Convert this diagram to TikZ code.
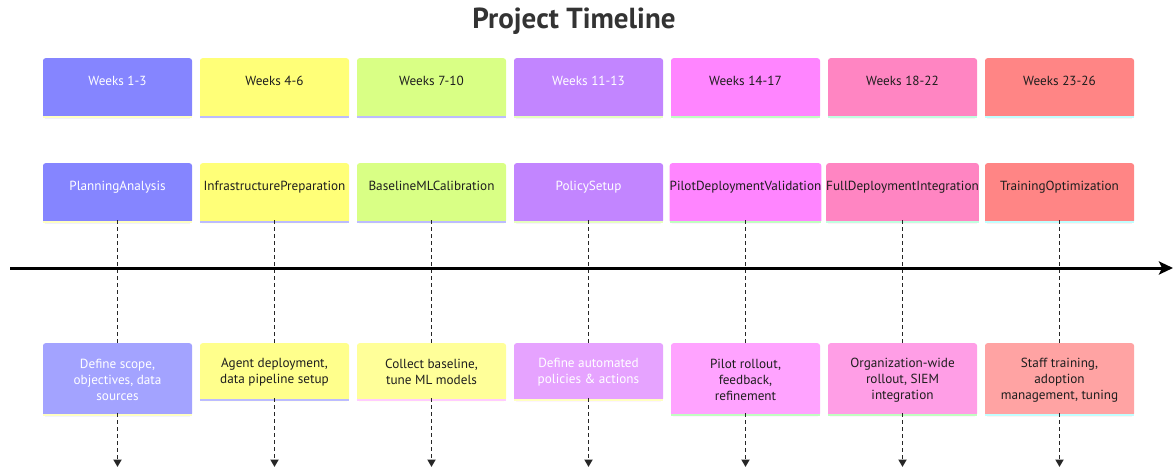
\documentclass[tikz,border=0pt]{standalone}
\usepackage{fontspec}
\setmainfont{PT Sans}
\usetikzlibrary{arrows.meta}

\definecolor{sec1}{HTML}{8585FF}\definecolor{ev1}{HTML}{A3A3FF}
\definecolor{sec2}{HTML}{FFFF78}\definecolor{ev2}{HTML}{FFFF8C}
\definecolor{sec3}{HTML}{D9FF85}\definecolor{ev3}{HTML}{FFFF99}
\definecolor{sec4}{HTML}{C285FF}\definecolor{ev4}{HTML}{E6A3FF}
\definecolor{sec5}{HTML}{FF85FF}\definecolor{ev5}{HTML}{FFA3FF}
\definecolor{sec6}{HTML}{FF85C2}\definecolor{ev6}{HTML}{FF9EE6}
\definecolor{sec7}{HTML}{FF8585}\definecolor{ev7}{HTML}{FFA3A3}
\definecolor{lineyellow}{HTML}{FFFFC0}
\definecolor{linelav}{HTML}{BCBCFF}
\definecolor{linepink}{HTML}{FFCCFF}
\definecolor{linelime}{HTML}{E6FFBE}
\definecolor{linegreen}{HTML}{C0FFC0}
\definecolor{linemint}{HTML}{C0FFE0}
\definecolor{linecyan}{HTML}{C0FFFF}
\definecolor{inkdark}{HTML}{1E1E1E}

\tikzset{
  card/.style={anchor=north, minimum width=149pt, inner xsep=0pt, inner ysep=0pt,
    rounded corners=2.5pt, text=inkdark, font=\fontsize{13.2}{16}\selectfont,
    text height=27.5pt, text depth=32.5pt},
  evcard/.style={anchor=north, minimum width=149pt, inner xsep=0pt, inner ysep=0pt,
    rounded corners=2.5pt, text=inkdark, align=center, font=\fontsize{13.2}{16}\selectfont},
  strip/.style={line width=2.4pt},
  guide/.style={dash pattern=on 3.5pt off 3.5pt, line width=1.9pt, draw=black!85},
  guidetip/.style={guide, -{Triangle[length=7.5pt,width=8pt]}}
}

\begin{document}
\begin{tikzpicture}[x=1pt,y=-1pt]
			%%%%% START %%%%%
			\useasboundingbox (0,0) rectangle (1173,468);
			
			\node[font=\bfseries\fontsize{29}{34}\selectfont, text=black!80] (title) at (574,21) {Project Timeline};
			
			% week boxes
			\node[card, fill=sec1, text=white] (w1) at (117.5,58) {Weeks 1-3};
			\node[card, fill=sec2] (w2) at (274.5,58) {Weeks 4-6};
			\node[card, fill=sec3] (w3) at (431.5,58) {Weeks 7-10};
			\node[card, fill=sec4, text=white] (w4) at (588.5,58) {Weeks 11-13};
			\node[card, fill=sec5] (w5) at (745.5,58) {Weeks 14-17};
			\node[card, fill=sec6] (w6) at (902.5,58) {Weeks 18-22};
			\node[card, fill=sec7] (w7) at (1059.5,58) {Weeks 23-26};
			
			% section boxes
			\node[card, fill=sec1, text=white] (s1) at (117.5,163) {PlanningAnalysis};
			\node[card, fill=sec2] (s2) at (274.5,163) {InfrastructurePreparation};
			\node[card, fill=sec3] (s3) at (431.5,163) {BaselineMLCalibration};
			\node[card, fill=sec4, text=white] (s4) at (588.5,163) {PolicySetup};
			\node[card, fill=sec5] (s5) at (745.5,163) {PilotDeploymentValidation};
			\node[card, fill=sec6] (s6) at (902.5,163) {FullDeploymentIntegration};
			\node[card, fill=sec7] (s7) at (1059.5,163) {TrainingOptimization};
			
			% event boxes
			\node[evcard, fill=ev1, text=white, minimum height=73pt] (e1) at (117.5,343) {Define scope,\\objectives, data\\sources};
			\node[evcard, fill=ev2, minimum height=58pt] (e2) at (274.5,343) {Agent deployment,\\data pipeline setup};
			\node[evcard, fill=ev3, minimum height=58pt] (e3) at (431.5,343) {Collect baseline,\\tune ML models};
			\node[evcard, fill=ev4, text=white, minimum height=58pt] (e4) at (588.5,343) {Define automated\\policies \& actions};
			\node[evcard, fill=ev5, minimum height=73pt] (e5) at (745.5,343) {Pilot rollout,\\feedback,\\refinement};
			\node[evcard, fill=ev6, minimum height=73pt] (e6) at (902.5,343) {Organization-wide\\rollout, SIEM\\integration};
			\node[evcard, fill=ev7, minimum height=73pt] (e7) at (1059.5,343) {Staff training,\\adoption\\management, tuning};
			
			% strips under the boxes
			\foreach \n/\c in {w1/lineyellow, w2/linelav, w3/linelav, w4/linelime, w5/linegreen, w6/linemint, w7/linecyan,
			                   s1/lineyellow, s2/linelav, s3/linelav, s4/linelime, s5/linegreen, s6/linemint, s7/linecyan,
			                   e1/lineyellow, e2/linelav, e3/linepink, e4/lineyellow, e5/linegreen, e6/linegreen, e7/linecyan}
			  \draw[strip, \c] ([yshift=1.2pt]\n.south west) -- ([yshift=1.2pt]\n.south east);
			
			% guides
			\foreach \i/\x in {1/117.5, 2/274.5, 3/431.5, 4/588.5, 5/745.5, 6/902.5, 7/1059.5} {
			  \coordinate (a\i) at (\x,467);
			  \draw[guide] ([yshift=3pt]s\i.south) -- (e\i.north);
			  \draw[guidetip] ([yshift=3pt]e\i.south) -- (a\i);
			}
			
			% timeline
			\coordinate (tl0) at (10,268);
			\coordinate (tl1) at (1173,268);
			\draw[line width=3pt, -{Stealth[length=14pt,width=13pt,inset=3pt]}] (tl0) -- (tl1);
			%%%%% END %%%%%
\end{tikzpicture}
\end{document}
